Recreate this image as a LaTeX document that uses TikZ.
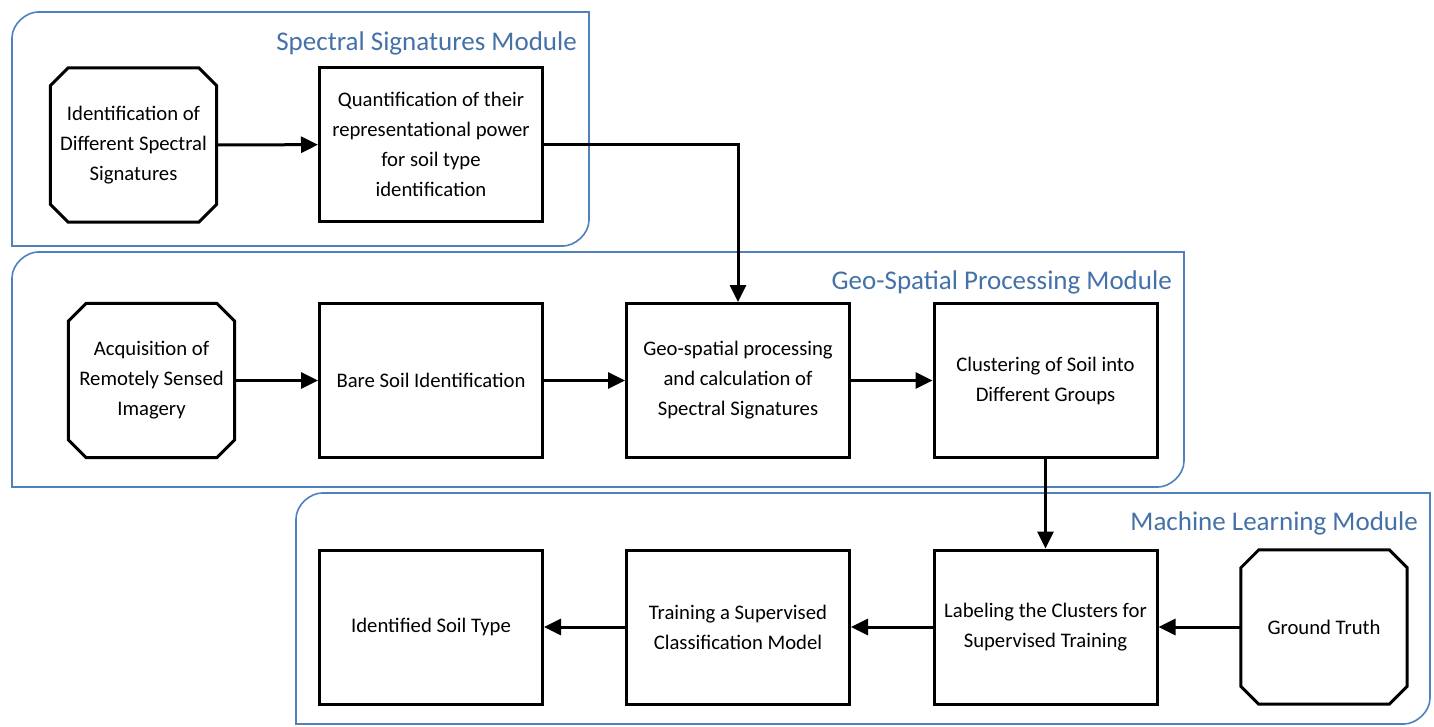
\documentclass[tikz,border=0pt]{standalone}
\usepackage{fontspec}
\setmainfont{Carlito}
\usetikzlibrary{arrows.meta}
\definecolor{modline}{RGB}{79,129,189}
\definecolor{modtext}{RGB}{68,114,168}
\tikzset{
  module/.style={draw=modline, line width=1.6pt},
  modtitle/.style={anchor=base east, text=modtext, font=\fontsize{27}{32}\selectfont, inner sep=0pt},
  boxtext/.style={align=center, inner sep=0pt, font=\fontsize{20.7}{30}\selectfont},
  stepbox/.style={boxtext, draw, line width=3pt, rectangle, minimum width=223pt, minimum height=154pt},
  octbox/.style={boxtext, rectangle, minimum width=166pt, minimum height=154pt},
  octline/.style={draw, line width=3pt, line join=miter},
  flow/.style={line width=3pt, -{Triangle[length=17pt,width=16pt]}}
}
% outline of an octagonal (cut-corner) box around a named node
\newcommand\octframe[2][18pt]{%
  \draw[octline] ([xshift=#1]#2.north west) -- ([xshift=-#1]#2.north east)
    -- ([yshift=-#1]#2.north east) -- ([yshift=#1]#2.south east)
    -- ([xshift=-#1]#2.south east) -- ([xshift=#1]#2.south west)
    -- ([yshift=#1]#2.south west) -- ([yshift=-#1]#2.north west) -- cycle;}
\begin{document}
\begin{tikzpicture}[x=1pt,y=-1pt]
\useasboundingbox (0,0) rectangle (1434,726);
\fill[white] (0,0) rectangle (1434,726);

% module frames: rounded top-left and bottom-right corners
\draw[module] (12,246) -- (12,38) .. controls (12,23.6) and (26.4,12) .. (38,12)
  -- (589,12) -- (589,220) .. controls (589,234.4) and (574.6,246) .. (563,246) -- cycle;
\draw[module] (12,487) -- (12,278) .. controls (12,263.6) and (26.4,252) .. (38,252)
  -- (1184,252) -- (1184,461) .. controls (1184,475.4) and (1169.6,487) .. (1158,487) -- cycle;
\draw[module] (296,724) -- (296,519) .. controls (296,504.6) and (310.4,493) .. (322,493)
  -- (1430,493) -- (1430,698) .. controls (1430,712.4) and (1415.6,724) .. (1404,724) -- cycle;

\node[modtitle] (t1) at (577,50) {Spectral Signatures Module};
\node[modtitle] (t2) at (1172,289) {Geo-Spatial Processing Module};
\node[modtitle] (t3) at (1418,530) {Machine Learning Module};

% spectral signatures
\node[octbox] (ident) at (133.5,145) {Identification of\\Different Spectral\\Signatures};
\node[stepbox] (quant) at (431,144.5) {Quantification of their\\representational power\\for soil type\\identification};

% geo-spatial processing
\node[octbox] (acq) at (151.5,380.5) {Acquisition of\\Remotely Sensed\\Imagery};
\node[stepbox] (bare) at (431,380.5) {Bare Soil Identification};
\node[stepbox] (geo) at (738,380.5) {Geo-spatial processing\\and calculation of\\Spectral Signatures};
\node[stepbox] (clus) at (1045.5,380.5) {Clustering of Soil into\\Different Groups};

% machine learning
\node[stepbox] (soil) at (431,627) {Identified Soil Type};
\node[stepbox] (train) at (738,627) {Training a Supervised\\Classification Model};
\node[stepbox] (label) at (1045.5,627) {Labeling the Clusters for\\Supervised Training};
\node[octbox] (truth) at (1324,627) {Ground Truth};

\octframe{ident}
\octframe{acq}
\octframe{truth}

% connectors
\draw[flow] (ident) -- (quant);
\draw[flow] (quant.east) -| (geo.north);
\draw[flow] (acq) -- (bare);
\draw[flow] (bare) -- (geo);
\draw[flow] (geo) -- (clus);
\draw[flow] (clus) -- (label);
\draw[flow] (truth) -- (label);
\draw[flow] (label) -- (train);
\draw[flow] (train) -- (soil);
\end{tikzpicture}
\end{document}
